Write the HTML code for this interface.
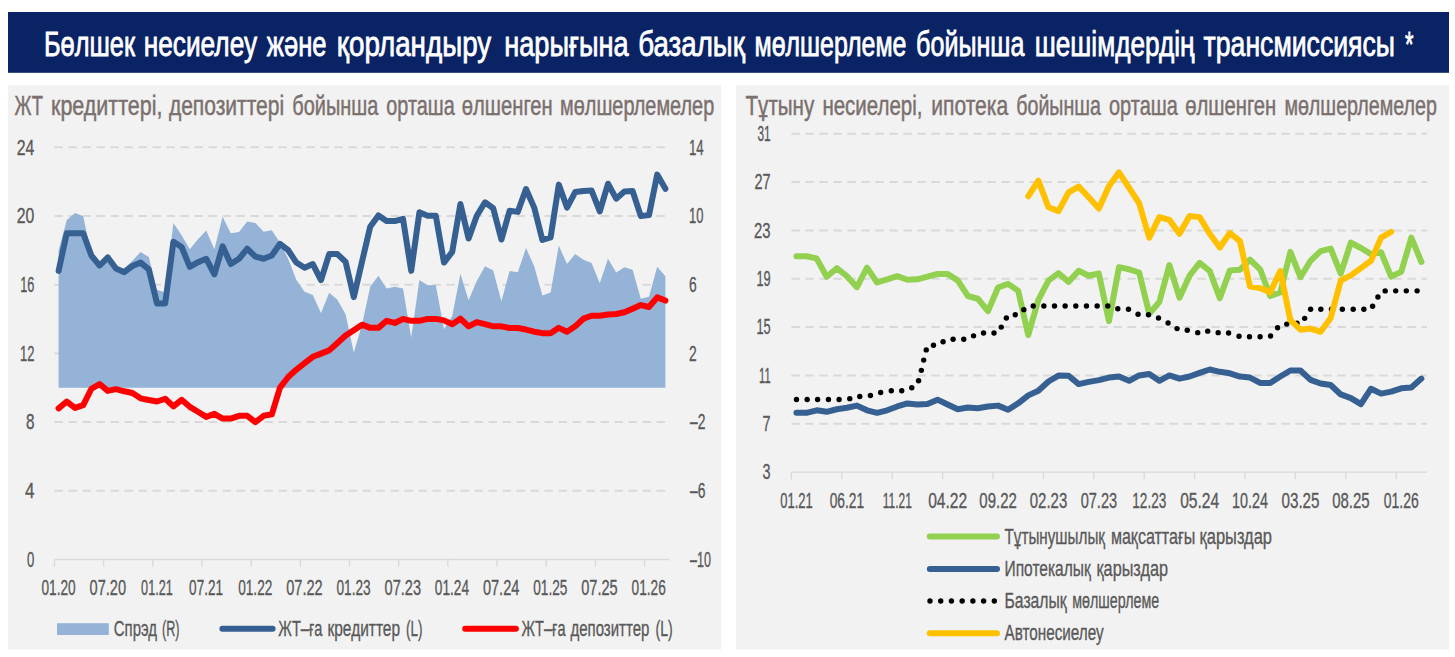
<!DOCTYPE html>
<html><head><meta charset="utf-8"><title>chart</title>
<style>html,body{margin:0;padding:0;background:#fff;}svg{display:block}text{font-family:"Liberation Sans",sans-serif;}</style>
</head><body>
<svg width="1455" height="657" viewBox="0 0 1455 657">
<rect width="1455" height="657" fill="#ffffff"/>
<rect x="8" y="12" width="1441" height="60.8" fill="#0a2364"/>
<rect x="8" y="85.2" width="713" height="564.3" fill="#f2f2f2"/>
<rect x="736" y="85.2" width="713" height="564.3" fill="#f2f2f2"/>
<text x="43.90" y="56.30" font-size="34.3" fill="#ffffff" font-weight="normal" textLength="91.10" lengthAdjust="spacingAndGlyphs" stroke="#ffffff" stroke-width="0.8">Бөлшек</text>
<text x="143.70" y="56.30" font-size="34.3" fill="#ffffff" font-weight="normal" textLength="113.40" lengthAdjust="spacingAndGlyphs" stroke="#ffffff" stroke-width="0.8">несиелеу</text>
<text x="266.80" y="56.30" font-size="34.3" fill="#ffffff" font-weight="normal" textLength="59.70" lengthAdjust="spacingAndGlyphs" stroke="#ffffff" stroke-width="0.8">және</text>
<text x="336.80" y="56.30" font-size="34.3" fill="#ffffff" font-weight="normal" textLength="154.40" lengthAdjust="spacingAndGlyphs" stroke="#ffffff" stroke-width="0.8">қорландыру</text>
<text x="504.20" y="56.30" font-size="34.3" fill="#ffffff" font-weight="normal" textLength="124.40" lengthAdjust="spacingAndGlyphs" stroke="#ffffff" stroke-width="0.8">нарығына</text>
<text x="638.30" y="56.30" font-size="34.3" fill="#ffffff" font-weight="normal" textLength="106.60" lengthAdjust="spacingAndGlyphs" stroke="#ffffff" stroke-width="0.8">базалық</text>
<text x="754.50" y="56.30" font-size="34.3" fill="#ffffff" font-weight="normal" textLength="151.90" lengthAdjust="spacingAndGlyphs" stroke="#ffffff" stroke-width="0.8">мөлшерлеме</text>
<text x="916.10" y="56.30" font-size="34.3" fill="#ffffff" font-weight="normal" textLength="108.30" lengthAdjust="spacingAndGlyphs" stroke="#ffffff" stroke-width="0.8">бойынша</text>
<text x="1034.70" y="56.30" font-size="34.3" fill="#ffffff" font-weight="normal" textLength="159.90" lengthAdjust="spacingAndGlyphs" stroke="#ffffff" stroke-width="0.8">шешімдердің</text>
<text x="1203.60" y="56.30" font-size="34.3" fill="#ffffff" font-weight="normal" textLength="191.40" lengthAdjust="spacingAndGlyphs" stroke="#ffffff" stroke-width="0.8">трансмиссиясы</text>
<text x="1405.00" y="56.30" font-size="34.3" fill="#ffffff" font-weight="normal" textLength="8.50" lengthAdjust="spacingAndGlyphs" stroke="#ffffff" stroke-width="0.8">*</text>
<text x="14.50" y="115.00" font-size="28" fill="#7a706e" font-weight="normal" textLength="28.40" lengthAdjust="spacingAndGlyphs" stroke="#7a706e" stroke-width="0.5">ЖТ</text>
<text x="51.00" y="115.00" font-size="28" fill="#7a706e" font-weight="normal" textLength="111.40" lengthAdjust="spacingAndGlyphs" stroke="#7a706e" stroke-width="0.5">кредиттері,</text>
<text x="168.90" y="115.00" font-size="28" fill="#7a706e" font-weight="normal" textLength="115.30" lengthAdjust="spacingAndGlyphs" stroke="#7a706e" stroke-width="0.5">депозиттері</text>
<text x="292.30" y="115.00" font-size="28" fill="#7a706e" font-weight="normal" textLength="85.90" lengthAdjust="spacingAndGlyphs" stroke="#7a706e" stroke-width="0.5">бойынша</text>
<text x="386.30" y="115.00" font-size="28" fill="#7a706e" font-weight="normal" textLength="68.40" lengthAdjust="spacingAndGlyphs" stroke="#7a706e" stroke-width="0.5">орташа</text>
<text x="461.80" y="115.00" font-size="28" fill="#7a706e" font-weight="normal" textLength="90.90" lengthAdjust="spacingAndGlyphs" stroke="#7a706e" stroke-width="0.5">өлшенген</text>
<text x="560.10" y="115.00" font-size="28" fill="#7a706e" font-weight="normal" textLength="154.10" lengthAdjust="spacingAndGlyphs" stroke="#7a706e" stroke-width="0.5">мөлшерлемелер</text>
<text x="745.50" y="115.00" font-size="28" fill="#7a706e" font-weight="normal" textLength="68.80" lengthAdjust="spacingAndGlyphs" stroke="#7a706e" stroke-width="0.5">Тұтыну</text>
<text x="822.40" y="115.00" font-size="28" fill="#7a706e" font-weight="normal" textLength="100.10" lengthAdjust="spacingAndGlyphs" stroke="#7a706e" stroke-width="0.5">несиелері,</text>
<text x="931.30" y="115.00" font-size="28" fill="#7a706e" font-weight="normal" textLength="76.90" lengthAdjust="spacingAndGlyphs" stroke="#7a706e" stroke-width="0.5">ипотека</text>
<text x="1016.30" y="115.00" font-size="28" fill="#7a706e" font-weight="normal" textLength="84.60" lengthAdjust="spacingAndGlyphs" stroke="#7a706e" stroke-width="0.5">бойынша</text>
<text x="1109.00" y="115.00" font-size="28" fill="#7a706e" font-weight="normal" textLength="68.80" lengthAdjust="spacingAndGlyphs" stroke="#7a706e" stroke-width="0.5">орташа</text>
<text x="1185.20" y="115.00" font-size="28" fill="#7a706e" font-weight="normal" textLength="91.10" lengthAdjust="spacingAndGlyphs" stroke="#7a706e" stroke-width="0.5">өлшенген</text>
<text x="1284.40" y="115.00" font-size="28" fill="#7a706e" font-weight="normal" textLength="152.60" lengthAdjust="spacingAndGlyphs" stroke="#7a706e" stroke-width="0.5">мөлшерлемелер</text>
<line x1="54.5" x2="669.5" y1="147.30" y2="147.30" stroke="#d9d9d9" stroke-width="2" stroke-dasharray="8.4 5.6"/>
<line x1="54.5" x2="669.5" y1="216.00" y2="216.00" stroke="#d9d9d9" stroke-width="2" stroke-dasharray="8.4 5.6"/>
<line x1="54.5" x2="669.5" y1="284.70" y2="284.70" stroke="#d9d9d9" stroke-width="2" stroke-dasharray="8.4 5.6"/>
<line x1="54.5" x2="669.5" y1="353.40" y2="353.40" stroke="#d9d9d9" stroke-width="2" stroke-dasharray="8.4 5.6"/>
<line x1="54.5" x2="669.5" y1="422.10" y2="422.10" stroke="#d9d9d9" stroke-width="2" stroke-dasharray="8.4 5.6"/>
<line x1="54.5" x2="669.5" y1="490.80" y2="490.80" stroke="#d9d9d9" stroke-width="2" stroke-dasharray="8.4 5.6"/>
<path d="M58.60,387.7 L58.60,250.22 L66.80,219.96 L75.00,212.93 L83.20,216.34 L91.40,254.55 L99.60,269.25 L107.80,254.34 L116.00,267.12 L124.20,268.61 L132.40,260.73 L140.60,252.00 L148.80,257.11 L157.00,289.71 L165.20,292.48 L173.40,222.95 L181.60,235.30 L189.80,249.15 L198.00,239.14 L206.20,230.40 L214.40,249.15 L222.60,216.77 L230.80,233.17 L239.00,231.89 L247.20,221.46 L255.40,222.95 L263.60,231.68 L271.80,230.19 L280.00,242.76 L288.20,258.74 L296.40,280.04 L304.60,291.76 L312.80,294.95 L321.00,313.11 L329.20,292.82 L337.40,299.64 L345.60,314.17 L353.80,352.52 L362.00,324.82 L370.20,286.86 L378.40,275.78 L386.60,288.56 L394.80,286.86 L403.00,288.56 L411.20,337.43 L419.40,280.04 L427.60,285.37 L435.80,284.94 L444.00,328.91 L452.20,316.13 L460.40,273.65 L468.60,300.28 L476.80,281.11 L485.00,266.19 L493.20,270.45 L501.40,301.34 L509.60,271.09 L517.80,272.16 L526.00,248.08 L534.20,266.19 L542.40,295.38 L550.60,292.40 L558.80,245.53 L567.00,264.06 L575.20,254.05 L583.40,259.80 L591.60,263.00 L599.80,283.24 L608.00,258.74 L616.20,272.58 L624.40,267.26 L632.60,269.81 L640.80,298.79 L649.00,296.66 L657.20,266.83 L665.40,276.21 L665.40,387.7 Z" fill="#95b3d7"/>
<polyline points="58.60,270.88 66.80,233.17 75.00,233.17 83.20,233.17 91.40,255.54 99.60,265.55 107.80,257.46 116.00,268.54 124.20,272.16 132.40,265.98 140.60,262.57 148.80,269.39 157.00,303.47 165.20,303.47 173.40,241.69 181.60,247.02 189.80,266.83 198.00,262.15 206.20,258.74 214.40,274.29 222.60,246.38 230.80,264.06 239.00,258.74 247.20,248.72 255.40,256.61 263.60,258.74 271.80,255.54 280.00,243.82 288.20,250.22 296.40,262.57 304.60,267.68 312.80,264.06 321.00,280.04 329.20,254.05 337.40,254.05 345.60,261.93 353.80,297.08 362.00,261.72 370.20,226.78 378.40,215.49 386.60,221.03 394.80,221.03 403.00,218.90 411.20,270.88 419.40,212.29 427.60,215.70 435.80,215.70 444.00,262.57 452.20,251.92 460.40,203.99 468.60,238.50 476.80,215.70 485.00,202.28 493.20,208.25 501.40,239.56 509.60,210.80 517.80,211.87 526.00,189.07 534.20,207.61 542.40,239.99 550.60,237.43 558.80,184.60 567.00,207.61 575.20,192.06 583.40,190.99 591.60,190.56 599.80,211.44 608.00,183.75 616.20,198.66 624.40,191.42 632.60,190.99 640.80,216.13 649.00,215.06 657.20,174.59 665.40,188.86" fill="none" stroke="#366092" stroke-width="6" stroke-linejoin="round" stroke-linecap="round" />
<polyline points="58.60,408.34 66.80,401.52 75.00,407.91 83.20,405.14 91.40,388.74 99.60,384.05 107.80,390.87 116.00,389.16 124.20,391.29 132.40,393.00 140.60,398.32 148.80,400.03 157.00,401.52 165.20,398.75 173.40,406.42 181.60,399.81 189.80,406.84 198.00,411.74 206.20,416.86 214.40,413.88 222.60,418.56 230.80,418.56 239.00,415.79 247.20,415.79 255.40,422.18 263.60,415.79 271.80,414.30 280.00,387.67 288.20,377.02 296.40,369.56 304.60,363.17 312.80,356.78 321.00,353.59 329.20,350.39 337.40,342.93 345.60,335.48 353.80,330.15 362.00,324.65 370.20,327.85 378.40,327.85 386.60,320.82 394.80,322.95 403.00,318.90 411.20,320.82 419.40,320.82 427.60,318.90 435.80,318.90 444.00,320.39 452.20,324.22 460.40,318.69 468.60,326.35 476.80,322.09 485.00,324.22 493.20,326.35 501.40,326.35 509.60,328.06 517.80,328.06 526.00,329.55 534.20,331.68 542.40,333.17 550.60,333.17 558.80,327.85 567.00,331.68 575.20,326.35 583.40,318.69 591.60,315.70 599.80,315.70 608.00,314.42 616.20,314.00 624.40,312.29 632.60,308.67 640.80,305.05 649.00,306.97 657.20,297.38 665.40,300.58" fill="none" stroke="#ff0000" stroke-width="6" stroke-linejoin="round" stroke-linecap="round" />
<line x1="54.5" x2="669.7" y1="559.5" y2="559.5" stroke="#d9d9d9" stroke-width="1.3"/>
<line x1="54.50" x2="54.50" y1="559.5" y2="566.8" stroke="#d9d9d9" stroke-width="1.3"/>
<line x1="103.67" x2="103.67" y1="559.5" y2="566.8" stroke="#d9d9d9" stroke-width="1.3"/>
<line x1="152.84" x2="152.84" y1="559.5" y2="566.8" stroke="#d9d9d9" stroke-width="1.3"/>
<line x1="202.01" x2="202.01" y1="559.5" y2="566.8" stroke="#d9d9d9" stroke-width="1.3"/>
<line x1="251.18" x2="251.18" y1="559.5" y2="566.8" stroke="#d9d9d9" stroke-width="1.3"/>
<line x1="300.35" x2="300.35" y1="559.5" y2="566.8" stroke="#d9d9d9" stroke-width="1.3"/>
<line x1="349.52" x2="349.52" y1="559.5" y2="566.8" stroke="#d9d9d9" stroke-width="1.3"/>
<line x1="398.69" x2="398.69" y1="559.5" y2="566.8" stroke="#d9d9d9" stroke-width="1.3"/>
<line x1="447.86" x2="447.86" y1="559.5" y2="566.8" stroke="#d9d9d9" stroke-width="1.3"/>
<line x1="497.03" x2="497.03" y1="559.5" y2="566.8" stroke="#d9d9d9" stroke-width="1.3"/>
<line x1="546.20" x2="546.20" y1="559.5" y2="566.8" stroke="#d9d9d9" stroke-width="1.3"/>
<line x1="595.37" x2="595.37" y1="559.5" y2="566.8" stroke="#d9d9d9" stroke-width="1.3"/>
<line x1="644.54" x2="644.54" y1="559.5" y2="566.8" stroke="#d9d9d9" stroke-width="1.3"/>
<text x="16.80" y="154.60" font-size="22" fill="#595959" font-weight="normal" textLength="17.60" lengthAdjust="spacingAndGlyphs" stroke="#595959" stroke-width="0.35">24</text>
<text x="16.80" y="223.30" font-size="22" fill="#595959" font-weight="normal" textLength="17.60" lengthAdjust="spacingAndGlyphs" stroke="#595959" stroke-width="0.35">20</text>
<text x="20.20" y="292.00" font-size="22" fill="#595959" font-weight="normal" textLength="14.20" lengthAdjust="spacingAndGlyphs" stroke="#595959" stroke-width="0.35">16</text>
<text x="19.90" y="360.70" font-size="22" fill="#595959" font-weight="normal" textLength="14.50" lengthAdjust="spacingAndGlyphs" stroke="#595959" stroke-width="0.35">12</text>
<text x="25.90" y="429.40" font-size="22" fill="#595959" font-weight="normal" textLength="8.50" lengthAdjust="spacingAndGlyphs" stroke="#595959" stroke-width="0.35">8</text>
<text x="24.90" y="498.10" font-size="22" fill="#595959" font-weight="normal" textLength="9.50" lengthAdjust="spacingAndGlyphs" stroke="#595959" stroke-width="0.35">4</text>
<text x="27.10" y="566.80" font-size="22" fill="#595959" font-weight="normal" textLength="7.30" lengthAdjust="spacingAndGlyphs" stroke="#595959" stroke-width="0.35">0</text>
<text x="689.00" y="154.60" font-size="22" fill="#595959" font-weight="normal" textLength="14.75" lengthAdjust="spacingAndGlyphs" stroke="#595959" stroke-width="0.35">14</text>
<text x="689.00" y="223.30" font-size="22" fill="#595959" font-weight="normal" textLength="14.40" lengthAdjust="spacingAndGlyphs" stroke="#595959" stroke-width="0.35">10</text>
<text x="689.00" y="292.00" font-size="22" fill="#595959" font-weight="normal" textLength="7.70" lengthAdjust="spacingAndGlyphs" stroke="#595959" stroke-width="0.35">6</text>
<text x="689.00" y="360.70" font-size="22" fill="#595959" font-weight="normal" textLength="7.70" lengthAdjust="spacingAndGlyphs" stroke="#595959" stroke-width="0.35">2</text>
<text x="690.00" y="429.40" font-size="22" fill="#595959" font-weight="normal" textLength="15.40" lengthAdjust="spacingAndGlyphs" stroke="#595959" stroke-width="0.35">–2</text>
<text x="690.00" y="498.10" font-size="22" fill="#595959" font-weight="normal" textLength="15.40" lengthAdjust="spacingAndGlyphs" stroke="#595959" stroke-width="0.35">–6</text>
<text x="690.00" y="566.80" font-size="22" fill="#595959" font-weight="normal" textLength="20.90" lengthAdjust="spacingAndGlyphs" stroke="#595959" stroke-width="0.35">–10</text>
<text x="41.50" y="595.00" font-size="22" fill="#595959" font-weight="normal" textLength="34.20" lengthAdjust="spacingAndGlyphs" stroke="#595959" stroke-width="0.35">01.20</text>
<text x="89.52" y="595.00" font-size="22" fill="#595959" font-weight="normal" textLength="36.50" lengthAdjust="spacingAndGlyphs" stroke="#595959" stroke-width="0.35">07.20</text>
<text x="141.09" y="595.00" font-size="22" fill="#595959" font-weight="normal" textLength="31.70" lengthAdjust="spacingAndGlyphs" stroke="#595959" stroke-width="0.35">01.21</text>
<text x="189.11" y="595.00" font-size="22" fill="#595959" font-weight="normal" textLength="34.00" lengthAdjust="spacingAndGlyphs" stroke="#595959" stroke-width="0.35">07.21</text>
<text x="238.18" y="595.00" font-size="22" fill="#595959" font-weight="normal" textLength="34.20" lengthAdjust="spacingAndGlyphs" stroke="#595959" stroke-width="0.35">01.22</text>
<text x="286.20" y="595.00" font-size="22" fill="#595959" font-weight="normal" textLength="36.50" lengthAdjust="spacingAndGlyphs" stroke="#595959" stroke-width="0.35">07.22</text>
<text x="336.52" y="595.00" font-size="22" fill="#595959" font-weight="normal" textLength="34.20" lengthAdjust="spacingAndGlyphs" stroke="#595959" stroke-width="0.35">01.23</text>
<text x="384.54" y="595.00" font-size="22" fill="#595959" font-weight="normal" textLength="36.50" lengthAdjust="spacingAndGlyphs" stroke="#595959" stroke-width="0.35">07.23</text>
<text x="434.86" y="595.00" font-size="22" fill="#595959" font-weight="normal" textLength="34.20" lengthAdjust="spacingAndGlyphs" stroke="#595959" stroke-width="0.35">01.24</text>
<text x="482.88" y="595.00" font-size="22" fill="#595959" font-weight="normal" textLength="36.50" lengthAdjust="spacingAndGlyphs" stroke="#595959" stroke-width="0.35">07.24</text>
<text x="533.20" y="595.00" font-size="22" fill="#595959" font-weight="normal" textLength="34.20" lengthAdjust="spacingAndGlyphs" stroke="#595959" stroke-width="0.35">01.25</text>
<text x="581.22" y="595.00" font-size="22" fill="#595959" font-weight="normal" textLength="36.50" lengthAdjust="spacingAndGlyphs" stroke="#595959" stroke-width="0.35">07.25</text>
<text x="631.54" y="595.00" font-size="22" fill="#595959" font-weight="normal" textLength="34.20" lengthAdjust="spacingAndGlyphs" stroke="#595959" stroke-width="0.35">01.26</text>
<rect x="57" y="623.2" width="51.8" height="11.8" fill="#95b3d7"/>
<text x="113.75" y="636.20" font-size="22" fill="#595959" font-weight="normal" textLength="43.25" lengthAdjust="spacingAndGlyphs" stroke="#595959" stroke-width="0.35">Спрэд</text>
<text x="162.00" y="636.20" font-size="22" fill="#595959" font-weight="normal" textLength="17.50" lengthAdjust="spacingAndGlyphs" stroke="#595959" stroke-width="0.35">(R)</text>
<polyline points="222.40,628.80 272.60,628.80" fill="none" stroke="#366092" stroke-width="6" stroke-linejoin="round" stroke-linecap="round" />
<text x="278.20" y="636.20" font-size="22" fill="#595959" font-weight="normal" textLength="44.30" lengthAdjust="spacingAndGlyphs" stroke="#595959" stroke-width="0.35">ЖТ–ға</text>
<text x="327.50" y="636.20" font-size="22" fill="#595959" font-weight="normal" textLength="72.50" lengthAdjust="spacingAndGlyphs" stroke="#595959" stroke-width="0.35">кредиттер</text>
<text x="406.00" y="636.20" font-size="22" fill="#595959" font-weight="normal" textLength="16.50" lengthAdjust="spacingAndGlyphs" stroke="#595959" stroke-width="0.35">(L)</text>
<polyline points="465.20,628.80 515.90,628.80" fill="none" stroke="#ff0000" stroke-width="6" stroke-linejoin="round" stroke-linecap="round" />
<text x="521.50" y="636.20" font-size="22" fill="#595959" font-weight="normal" textLength="44.00" lengthAdjust="spacingAndGlyphs" stroke="#595959" stroke-width="0.35">ЖТ–ға</text>
<text x="570.50" y="636.20" font-size="22" fill="#595959" font-weight="normal" textLength="78.80" lengthAdjust="spacingAndGlyphs" stroke="#595959" stroke-width="0.35">депозиттер</text>
<text x="655.50" y="636.20" font-size="22" fill="#595959" font-weight="normal" textLength="17.20" lengthAdjust="spacingAndGlyphs" stroke="#595959" stroke-width="0.35">(L)</text>
<line x1="791.4" x2="1427" y1="133.70" y2="133.70" stroke="#d9d9d9" stroke-width="2" stroke-dasharray="8.4 5.6"/>
<line x1="791.4" x2="1427" y1="182.05" y2="182.05" stroke="#d9d9d9" stroke-width="2" stroke-dasharray="8.4 5.6"/>
<line x1="791.4" x2="1427" y1="230.40" y2="230.40" stroke="#d9d9d9" stroke-width="2" stroke-dasharray="8.4 5.6"/>
<line x1="791.4" x2="1427" y1="278.75" y2="278.75" stroke="#d9d9d9" stroke-width="2" stroke-dasharray="8.4 5.6"/>
<line x1="791.4" x2="1427" y1="327.10" y2="327.10" stroke="#d9d9d9" stroke-width="2" stroke-dasharray="8.4 5.6"/>
<line x1="791.4" x2="1427" y1="375.45" y2="375.45" stroke="#d9d9d9" stroke-width="2" stroke-dasharray="8.4 5.6"/>
<line x1="791.4" x2="1427" y1="423.80" y2="423.80" stroke="#d9d9d9" stroke-width="2" stroke-dasharray="8.4 5.6"/>
<line x1="791.4" x2="1427" y1="472.1" y2="472.1" stroke="#d9d9d9" stroke-width="1.3"/>
<line x1="791.40" x2="791.40" y1="472.1" y2="479.4" stroke="#d9d9d9" stroke-width="1.3"/>
<line x1="841.80" x2="841.80" y1="472.1" y2="479.4" stroke="#d9d9d9" stroke-width="1.3"/>
<line x1="892.20" x2="892.20" y1="472.1" y2="479.4" stroke="#d9d9d9" stroke-width="1.3"/>
<line x1="942.60" x2="942.60" y1="472.1" y2="479.4" stroke="#d9d9d9" stroke-width="1.3"/>
<line x1="993.00" x2="993.00" y1="472.1" y2="479.4" stroke="#d9d9d9" stroke-width="1.3"/>
<line x1="1043.40" x2="1043.40" y1="472.1" y2="479.4" stroke="#d9d9d9" stroke-width="1.3"/>
<line x1="1093.80" x2="1093.80" y1="472.1" y2="479.4" stroke="#d9d9d9" stroke-width="1.3"/>
<line x1="1144.20" x2="1144.20" y1="472.1" y2="479.4" stroke="#d9d9d9" stroke-width="1.3"/>
<line x1="1194.60" x2="1194.60" y1="472.1" y2="479.4" stroke="#d9d9d9" stroke-width="1.3"/>
<line x1="1245.00" x2="1245.00" y1="472.1" y2="479.4" stroke="#d9d9d9" stroke-width="1.3"/>
<line x1="1295.40" x2="1295.40" y1="472.1" y2="479.4" stroke="#d9d9d9" stroke-width="1.3"/>
<line x1="1345.80" x2="1345.80" y1="472.1" y2="479.4" stroke="#d9d9d9" stroke-width="1.3"/>
<line x1="1396.20" x2="1396.20" y1="472.1" y2="479.4" stroke="#d9d9d9" stroke-width="1.3"/>
<polyline points="796.44,256.29 806.52,256.29 816.60,258.42 826.68,276.74 836.76,268.22 846.84,276.11 856.92,287.18 867.00,267.58 877.08,282.50 887.16,279.30 897.24,276.11 907.32,279.73 917.40,279.30 927.48,276.53 937.56,273.98 947.64,273.98 957.72,280.37 967.80,295.99 977.88,298.76 987.96,311.12 998.04,287.47 1008.12,283.85 1018.20,290.88 1028.28,334.98 1038.36,299.83 1048.44,280.65 1058.52,273.20 1068.60,281.86 1078.68,270.78 1088.76,275.69 1098.84,273.56 1108.92,321.13 1119.00,267.17 1129.08,269.30 1139.16,272.50 1149.24,313.67 1159.32,301.96 1169.40,265.04 1179.48,297.69 1189.56,275.69 1199.64,262.91 1209.72,271.01 1219.80,298.12 1229.88,270.37 1239.96,269.73 1250.04,259.71 1260.12,269.30 1270.20,295.99 1280.28,292.37 1290.36,251.90 1300.44,277.23 1310.52,260.79 1320.60,251.05 1330.68,248.61 1340.76,273.57 1350.84,242.53 1360.92,248.00 1371.00,254.09 1381.08,252.27 1391.16,276.62 1401.24,271.75 1411.32,237.65 1421.40,262.01" fill="none" stroke="#92d050" stroke-width="6" stroke-linejoin="round" stroke-linecap="round" />
<polyline points="796.44,412.86 806.52,412.86 816.60,410.30 826.68,411.79 836.76,409.24 846.84,407.75 856.92,405.62 867.00,410.30 877.08,412.86 887.16,410.30 897.24,406.47 907.32,403.49 917.40,404.55 927.48,403.91 937.56,399.65 947.64,404.55 957.72,409.24 967.80,407.53 977.88,408.17 987.96,406.47 998.04,405.62 1008.12,409.66 1018.20,403.27 1028.28,395.39 1038.36,390.70 1048.44,381.54 1058.52,375.58 1068.60,375.79 1078.68,384.10 1088.76,381.84 1098.84,380.14 1108.92,377.58 1119.00,376.52 1129.08,380.78 1139.16,375.45 1149.24,373.96 1159.32,380.78 1169.40,375.45 1179.48,378.65 1189.56,376.52 1199.64,372.90 1209.72,369.49 1219.80,371.83 1229.88,373.32 1239.96,376.52 1250.04,377.58 1260.12,382.91 1270.20,382.91 1280.28,376.52 1290.36,370.46 1300.44,370.46 1310.52,379.83 1320.60,383.48 1330.68,385.07 1340.76,394.44 1350.84,398.09 1360.92,404.18 1371.00,388.72 1381.08,393.59 1391.16,391.64 1401.24,388.35 1411.32,387.50 1421.40,378.61" fill="none" stroke="#366092" stroke-width="6" stroke-linejoin="round" stroke-linecap="round" />
<circle cx="796.50" cy="399.53" r="2.7" fill="#000"/>
<circle cx="807.16" cy="399.53" r="2.7" fill="#000"/>
<circle cx="817.59" cy="399.53" r="2.7" fill="#000"/>
<circle cx="828.46" cy="399.53" r="2.7" fill="#000"/>
<circle cx="839.11" cy="399.53" r="2.7" fill="#000"/>
<circle cx="849.76" cy="398.67" r="2.7" fill="#000"/>
<circle cx="859.78" cy="396.54" r="2.7" fill="#000"/>
<circle cx="870.43" cy="395.48" r="2.7" fill="#000"/>
<circle cx="880.65" cy="392.50" r="2.7" fill="#000"/>
<circle cx="891.31" cy="390.79" r="2.7" fill="#000"/>
<circle cx="901.74" cy="390.79" r="2.7" fill="#000"/>
<circle cx="911.76" cy="387.81" r="2.7" fill="#000"/>
<circle cx="918.57" cy="380.78" r="2.7" fill="#000"/>
<circle cx="921.34" cy="370.34" r="2.7" fill="#000"/>
<circle cx="923.69" cy="360.12" r="2.7" fill="#000"/>
<circle cx="926.24" cy="349.89" r="2.7" fill="#000"/>
<circle cx="933.49" cy="345.20" r="2.7" fill="#000"/>
<circle cx="943.07" cy="341.79" r="2.7" fill="#000"/>
<circle cx="953.09" cy="339.24" r="2.7" fill="#000"/>
<circle cx="963.74" cy="339.24" r="2.7" fill="#000"/>
<circle cx="973.54" cy="335.83" r="2.7" fill="#000"/>
<circle cx="983.55" cy="333.06" r="2.7" fill="#000"/>
<circle cx="993.99" cy="333.06" r="2.7" fill="#000"/>
<circle cx="1001.23" cy="327.09" r="2.7" fill="#000"/>
<circle cx="1006.35" cy="317.93" r="2.7" fill="#000"/>
<circle cx="1015.29" cy="314.74" r="2.7" fill="#000"/>
<circle cx="1023.82" cy="309.63" r="2.7" fill="#000"/>
<circle cx="1033.19" cy="306.00" r="2.7" fill="#000"/>
<circle cx="1043.84" cy="306.00" r="2.7" fill="#000"/>
<circle cx="1054.49" cy="306.00" r="2.7" fill="#000"/>
<circle cx="1065.14" cy="306.00" r="2.7" fill="#000"/>
<circle cx="1075.80" cy="306.00" r="2.7" fill="#000"/>
<circle cx="1086.45" cy="306.00" r="2.7" fill="#000"/>
<circle cx="1097.14" cy="306.00" r="2.7" fill="#000"/>
<circle cx="1107.80" cy="306.00" r="2.7" fill="#000"/>
<circle cx="1117.81" cy="308.77" r="2.7" fill="#000"/>
<circle cx="1128.46" cy="309.20" r="2.7" fill="#000"/>
<circle cx="1138.05" cy="314.31" r="2.7" fill="#000"/>
<circle cx="1148.49" cy="314.74" r="2.7" fill="#000"/>
<circle cx="1158.50" cy="317.93" r="2.7" fill="#000"/>
<circle cx="1168.08" cy="323.05" r="2.7" fill="#000"/>
<circle cx="1177.03" cy="328.59" r="2.7" fill="#000"/>
<circle cx="1187.26" cy="330.29" r="2.7" fill="#000"/>
<circle cx="1197.70" cy="332.63" r="2.7" fill="#000"/>
<circle cx="1207.71" cy="331.14" r="2.7" fill="#000"/>
<circle cx="1218.15" cy="332.63" r="2.7" fill="#000"/>
<circle cx="1228.59" cy="333.06" r="2.7" fill="#000"/>
<circle cx="1239.03" cy="336.25" r="2.7" fill="#000"/>
<circle cx="1249.47" cy="336.68" r="2.7" fill="#000"/>
<circle cx="1260.12" cy="336.68" r="2.7" fill="#000"/>
<circle cx="1270.56" cy="336.04" r="2.7" fill="#000"/>
<circle cx="1277.59" cy="327.73" r="2.7" fill="#000"/>
<circle cx="1286.75" cy="324.11" r="2.7" fill="#000"/>
<circle cx="1296.97" cy="323.26" r="2.7" fill="#000"/>
<circle cx="1304.64" cy="318.36" r="2.7" fill="#000"/>
<circle cx="1310.61" cy="309.20" r="2.7" fill="#000"/>
<circle cx="1320.83" cy="309.20" r="2.7" fill="#000"/>
<circle cx="1331.48" cy="309.20" r="2.7" fill="#000"/>
<circle cx="1342.35" cy="309.20" r="2.7" fill="#000"/>
<circle cx="1353.21" cy="309.20" r="2.7" fill="#000"/>
<circle cx="1363.87" cy="309.20" r="2.7" fill="#000"/>
<circle cx="1372.60" cy="306.22" r="2.7" fill="#000"/>
<circle cx="1377.93" cy="297.06" r="2.7" fill="#000"/>
<circle cx="1385.17" cy="290.88" r="2.7" fill="#000"/>
<circle cx="1395.69" cy="290.86" r="2.7" fill="#000"/>
<circle cx="1406.28" cy="290.86" r="2.7" fill="#000"/>
<circle cx="1417.12" cy="290.86" r="2.7" fill="#000"/>
<polyline points="1028.28,196.22 1038.36,180.66 1048.44,207.29 1058.52,211.13 1068.60,192.38 1078.68,186.63 1088.76,197.29 1098.84,208.59 1108.92,186.22 1119.00,172.37 1129.08,187.92 1139.16,203.26 1149.24,237.77 1159.32,217.11 1169.40,219.88 1179.48,233.72 1189.56,216.04 1199.64,217.11 1209.72,233.72 1219.80,247.57 1229.88,233.08 1239.96,241.18 1250.04,286.62 1260.12,288.11 1270.20,292.37 1280.28,271.07 1290.36,320.06 1300.44,329.65 1310.52,328.59 1320.60,331.78 1330.68,317.93 1340.76,280.51 1350.84,275.40 1360.92,268.09 1371.00,260.79 1381.08,237.65 1391.16,231.81" fill="none" stroke="#ffc000" stroke-width="6" stroke-linejoin="round" stroke-linecap="round" />
<text x="757.40" y="141.00" font-size="22" fill="#595959" font-weight="normal" textLength="13.20" lengthAdjust="spacingAndGlyphs" stroke="#595959" stroke-width="0.35">31</text>
<text x="754.50" y="189.35" font-size="22" fill="#595959" font-weight="normal" textLength="16.10" lengthAdjust="spacingAndGlyphs" stroke="#595959" stroke-width="0.35">27</text>
<text x="754.10" y="237.70" font-size="22" fill="#595959" font-weight="normal" textLength="16.50" lengthAdjust="spacingAndGlyphs" stroke="#595959" stroke-width="0.35">23</text>
<text x="756.40" y="286.05" font-size="22" fill="#595959" font-weight="normal" textLength="14.20" lengthAdjust="spacingAndGlyphs" stroke="#595959" stroke-width="0.35">19</text>
<text x="756.40" y="334.40" font-size="22" fill="#595959" font-weight="normal" textLength="14.20" lengthAdjust="spacingAndGlyphs" stroke="#595959" stroke-width="0.35">15</text>
<text x="759.10" y="382.75" font-size="22" fill="#595959" font-weight="normal" textLength="11.50" lengthAdjust="spacingAndGlyphs" stroke="#595959" stroke-width="0.35">11</text>
<text x="762.60" y="431.10" font-size="22" fill="#595959" font-weight="normal" textLength="8.00" lengthAdjust="spacingAndGlyphs" stroke="#595959" stroke-width="0.35">7</text>
<text x="762.60" y="479.45" font-size="22" fill="#595959" font-weight="normal" textLength="8.00" lengthAdjust="spacingAndGlyphs" stroke="#595959" stroke-width="0.35">3</text>
<text x="780.25" y="507.50" font-size="22" fill="#595959" font-weight="normal" textLength="32.50" lengthAdjust="spacingAndGlyphs" stroke="#595959" stroke-width="0.35">01.21</text>
<text x="829.65" y="507.50" font-size="22" fill="#595959" font-weight="normal" textLength="34.50" lengthAdjust="spacingAndGlyphs" stroke="#595959" stroke-width="0.35">06.21</text>
<text x="882.80" y="507.50" font-size="22" fill="#595959" font-weight="normal" textLength="29.00" lengthAdjust="spacingAndGlyphs" stroke="#595959" stroke-width="0.35">11.21</text>
<text x="928.20" y="507.50" font-size="22" fill="#595959" font-weight="normal" textLength="39.00" lengthAdjust="spacingAndGlyphs" stroke="#595959" stroke-width="0.35">04.22</text>
<text x="979.35" y="507.50" font-size="22" fill="#595959" font-weight="normal" textLength="37.50" lengthAdjust="spacingAndGlyphs" stroke="#595959" stroke-width="0.35">09.22</text>
<text x="1029.75" y="507.50" font-size="22" fill="#595959" font-weight="normal" textLength="37.50" lengthAdjust="spacingAndGlyphs" stroke="#595959" stroke-width="0.35">02.23</text>
<text x="1080.65" y="507.50" font-size="22" fill="#595959" font-weight="normal" textLength="36.50" lengthAdjust="spacingAndGlyphs" stroke="#595959" stroke-width="0.35">07.23</text>
<text x="1132.30" y="507.50" font-size="22" fill="#595959" font-weight="normal" textLength="34.00" lengthAdjust="spacingAndGlyphs" stroke="#595959" stroke-width="0.35">12.23</text>
<text x="1180.20" y="507.50" font-size="22" fill="#595959" font-weight="normal" textLength="39.00" lengthAdjust="spacingAndGlyphs" stroke="#595959" stroke-width="0.35">05.24</text>
<text x="1232.10" y="507.50" font-size="22" fill="#595959" font-weight="normal" textLength="36.00" lengthAdjust="spacingAndGlyphs" stroke="#595959" stroke-width="0.35">10.24</text>
<text x="1281.50" y="507.50" font-size="22" fill="#595959" font-weight="normal" textLength="38.00" lengthAdjust="spacingAndGlyphs" stroke="#595959" stroke-width="0.35">03.25</text>
<text x="1332.15" y="507.50" font-size="22" fill="#595959" font-weight="normal" textLength="37.50" lengthAdjust="spacingAndGlyphs" stroke="#595959" stroke-width="0.35">08.25</text>
<text x="1383.80" y="507.50" font-size="22" fill="#595959" font-weight="normal" textLength="35.00" lengthAdjust="spacingAndGlyphs" stroke="#595959" stroke-width="0.35">01.26</text>
<polyline points="929.80,536.40 997.00,536.40" fill="none" stroke="#92d050" stroke-width="6" stroke-linejoin="round" stroke-linecap="round" />
<polyline points="929.80,568.90 997.00,568.90" fill="none" stroke="#366092" stroke-width="6" stroke-linejoin="round" stroke-linecap="round" />
<circle cx="930.00" cy="601" r="2.7" fill="#000"/>
<circle cx="940.72" cy="601" r="2.7" fill="#000"/>
<circle cx="951.44" cy="601" r="2.7" fill="#000"/>
<circle cx="962.16" cy="601" r="2.7" fill="#000"/>
<circle cx="972.88" cy="601" r="2.7" fill="#000"/>
<circle cx="983.60" cy="601" r="2.7" fill="#000"/>
<circle cx="994.32" cy="601" r="2.7" fill="#000"/>
<polyline points="929.80,633.20 997.00,633.20" fill="none" stroke="#ffc000" stroke-width="6" stroke-linejoin="round" stroke-linecap="round" />
<text x="1004.50" y="543.70" font-size="22" fill="#595959" font-weight="normal" textLength="100.50" lengthAdjust="spacingAndGlyphs" stroke="#595959" stroke-width="0.35">Тұтынушылық</text>
<text x="1110.90" y="543.70" font-size="22" fill="#595959" font-weight="normal" textLength="84.50" lengthAdjust="spacingAndGlyphs" stroke="#595959" stroke-width="0.35">мақсаттағы</text>
<text x="1199.60" y="543.70" font-size="22" fill="#595959" font-weight="normal" textLength="72.40" lengthAdjust="spacingAndGlyphs" stroke="#595959" stroke-width="0.35">қарыздар</text>
<text x="1004.50" y="576.10" font-size="22" fill="#595959" font-weight="normal" textLength="86.30" lengthAdjust="spacingAndGlyphs" stroke="#595959" stroke-width="0.35">Ипотекалық</text>
<text x="1096.50" y="576.10" font-size="22" fill="#595959" font-weight="normal" textLength="71.50" lengthAdjust="spacingAndGlyphs" stroke="#595959" stroke-width="0.35">қарыздар</text>
<text x="1004.50" y="608.00" font-size="22" fill="#595959" font-weight="normal" textLength="62.20" lengthAdjust="spacingAndGlyphs" stroke="#595959" stroke-width="0.35">Базалық</text>
<text x="1072.30" y="608.00" font-size="22" fill="#595959" font-weight="normal" textLength="86.90" lengthAdjust="spacingAndGlyphs" stroke="#595959" stroke-width="0.35">мөлшерлеме</text>
<text x="1004.50" y="640.20" font-size="22" fill="#595959" font-weight="normal" textLength="99.20" lengthAdjust="spacingAndGlyphs" stroke="#595959" stroke-width="0.35">Автонесиелеу</text>
</svg>
</body></html>
